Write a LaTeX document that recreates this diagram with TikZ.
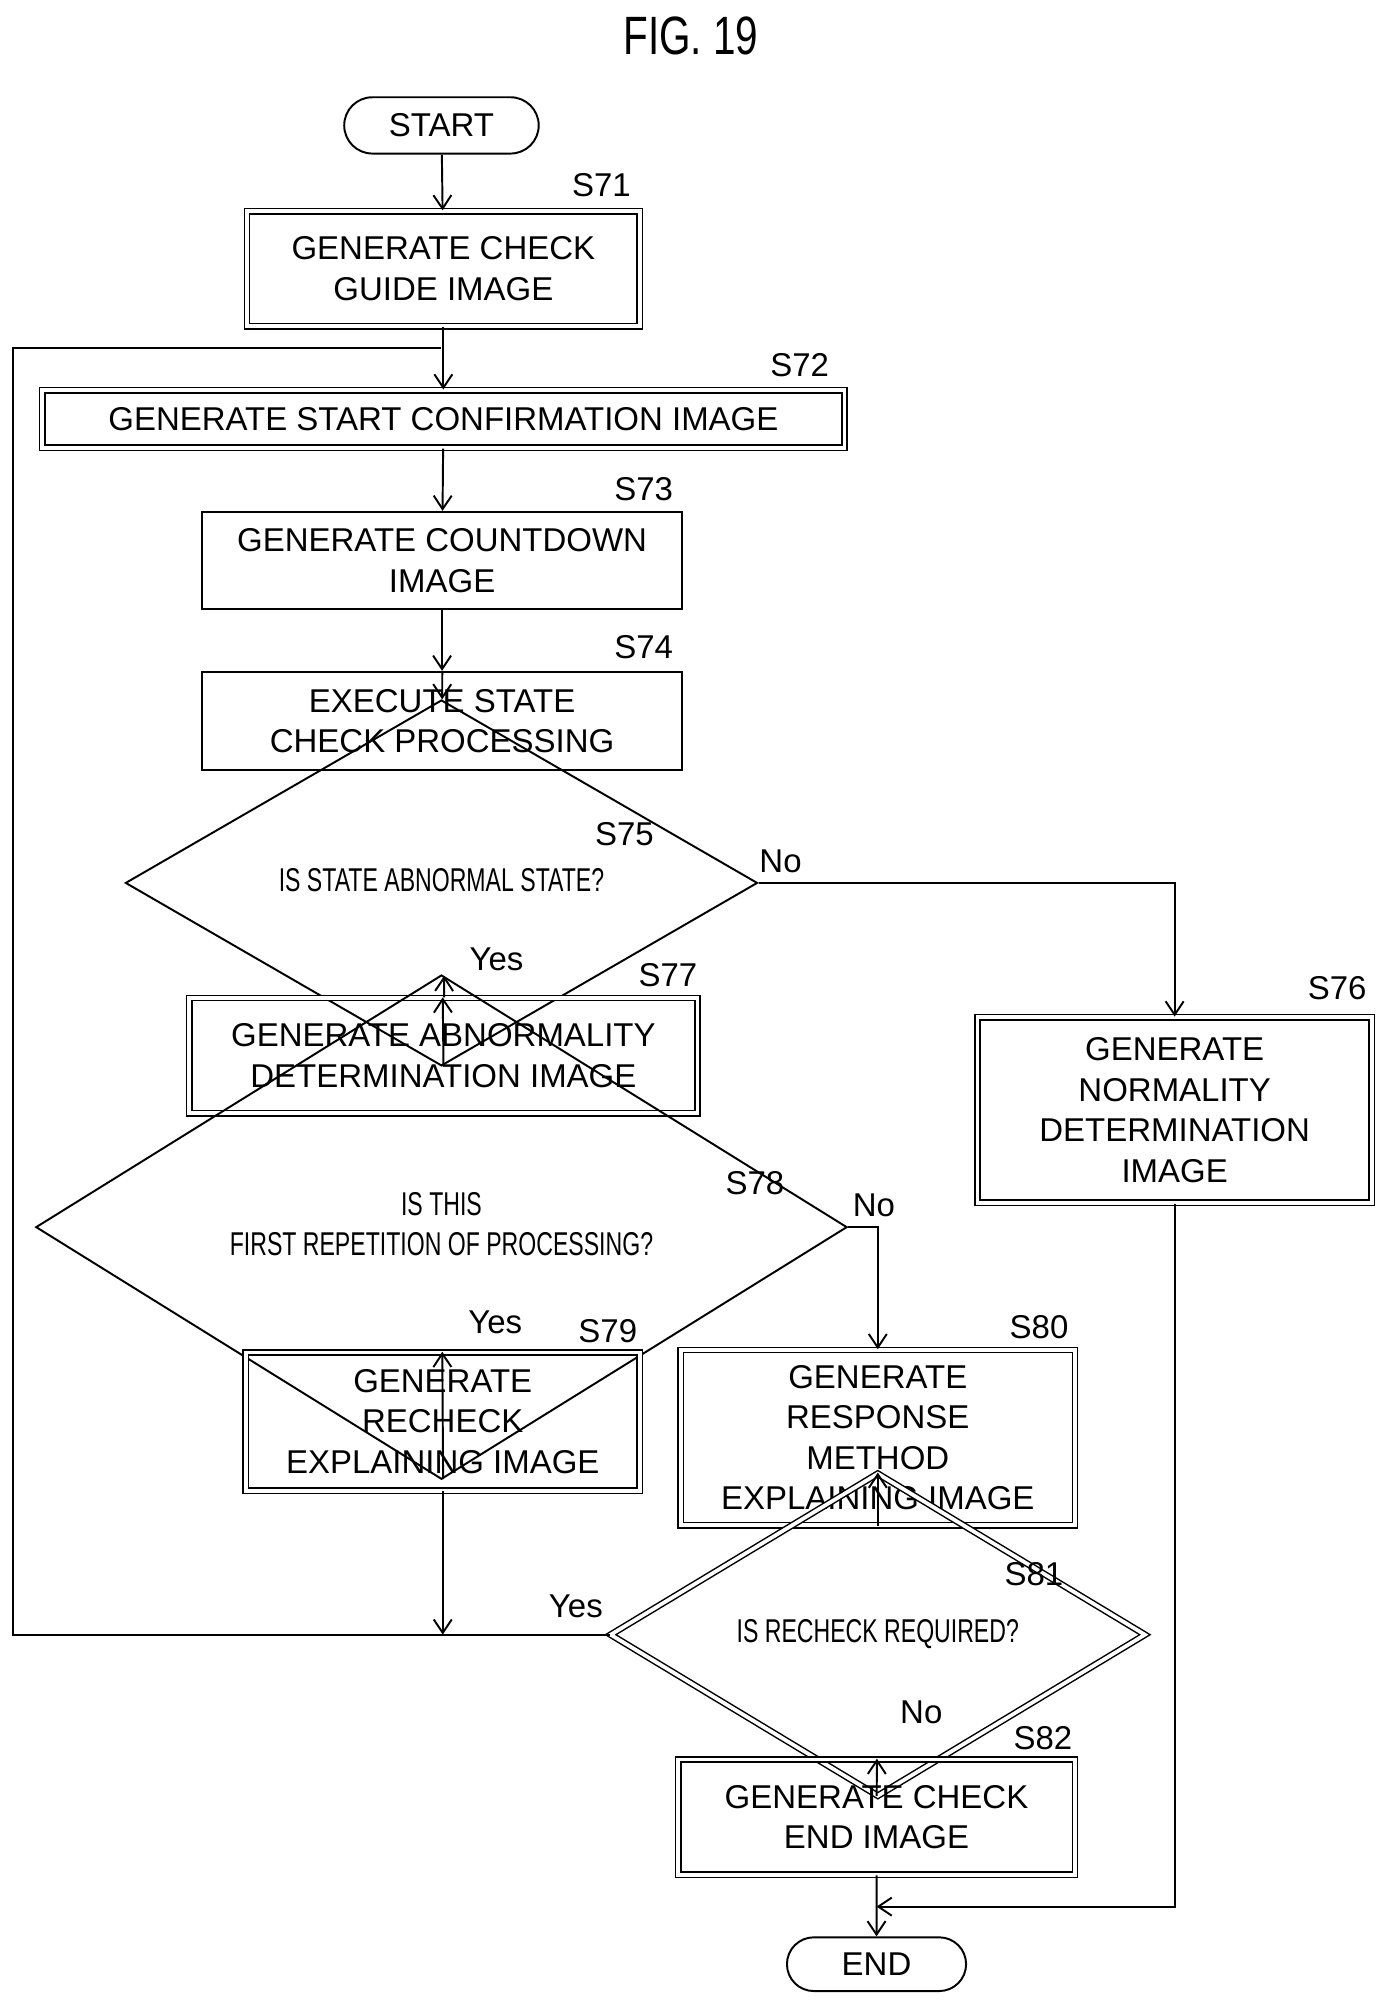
\documentclass[tikz,border=0pt]{standalone}
\usepackage{fontspec}
\setmainfont{Liberation Sans}
\usetikzlibrary{shapes.geometric,arrows.meta}
\newcommand{\condtext}[1]{\scalebox{0.7}[1]{\begin{tabular}{@{}c@{}}#1\end{tabular}}}
\tikzset{
  every node/.style={font=\fontsize{22}{27}\selectfont},
  proc/.style={draw,line width=1.3pt,align=center,inner sep=0pt},
  dproc/.style={proc,double,double distance=2.5pt,line width=1pt},
  cond/.style={draw,diamond,line width=1.3pt,inner sep=0pt},
  dcond/.style={cond,double,double distance=2.5pt,line width=1pt},
  term/.style={draw,rounded rectangle,line width=1.3pt,inner sep=0pt},
  flow/.style={line width=1.3pt,-{Straight Barb[length=9pt,width=12pt]}},
  line/.style={line width=1.3pt}
}
\usetikzlibrary{shapes.misc}
\begin{document}
\begin{tikzpicture}[x=0.03cm,y=-0.03cm]
				\useasboundingbox (0,0) rectangle (1080,1563);
				\node (title) at (540,28) {\fontsize{36}{40}\selectfont\scalebox{0.75}[1]{FIG. 19}};
				\node [term,minimum width=4.56cm,minimum height=1.32cm] (start) at (345,98) {START};
				\node [dproc,minimum width=9.21cm,minimum height=2.7cm] (s71) at (346.5,210) {GENERATE CHECK\\GUIDE IMAGE};
				\node (l71) at (470,145) {S71};
				\node [dproc,minimum width=18.81cm,minimum height=1.35cm] (s72) at (346.5,327.5) {GENERATE START CONFIRMATION IMAGE};
				\node (l72) at (625,285) {S72};
				\node [proc,minimum width=11.25cm,minimum height=2.28cm] (s73) at (345.5,438) {GENERATE COUNTDOWN\\IMAGE};
				\node (l73) at (503,382) {S73};
				\node [proc,minimum width=11.25cm,minimum height=2.31cm] (s74) at (345.5,563.5) {EXECUTE STATE\\CHECK PROCESSING};
				\node (l74) at (503,506) {S74};
				\node [cond,minimum width=14.82cm,minimum height=2.4cm] (s75) at (345,690) {\condtext{IS STATE ABNORMAL STATE?}};
				\node (l75) at (488,652) {S75};
				\node [dproc,minimum width=9.24cm,minimum height=4.35cm] (s76) at (918,867.5) {GENERATE\\NORMALITY\\DETERMINATION\\IMAGE};
				\node (l76) at (1045,772) {S76};
				\node [dproc,minimum width=11.91cm,minimum height=2.7cm] (s77) at (346.5,825) {GENERATE ABNORMALITY\\DETERMINATION IMAGE};
				\node (l77) at (522,762) {S77};
				\node [cond,minimum width=19.02cm,minimum height=3.54cm] (s78) at (345,959) {\condtext{IS THIS\\FIRST REPETITION OF PROCESSING?}};
				\node (l78) at (590,925) {S78};
				\node [dproc,minimum width=9.24cm,minimum height=3.24cm] (s79) at (346,1111) {GENERATE\\RECHECK\\EXPLAINING IMAGE};
				\node (l79) at (475,1040) {S79};
				\node [dproc,minimum width=9.24cm,minimum height=4.11cm] (s80) at (686,1123.5) {GENERATE\\RESPONSE\\METHOD\\EXPLAINING IMAGE};
				\node (l80) at (812,1037) {S80};
				\node [dcond,minimum width=12.54cm,minimum height=2.97cm] (s81) at (686,1277.5) {\condtext{IS RECHECK REQUIRED?}};
				\node (l81) at (808,1230) {S81};
				\node [dproc,minimum width=9.3cm,minimum height=2.7cm] (s82) at (685,1420) {GENERATE CHECK\\END IMAGE};
				\node (l82) at (815,1358) {S82};
				\node [term,minimum width=4.2cm,minimum height=1.26cm] (end) at (685,1535) {END};
				% branch labels
				\node (no75) at (610,673) {No};
				\node (yes75) at (388,750) {Yes};
				\node (no78) at (683,942) {No};
				\node (yes78) at (387,1033) {Yes};
				\node (yes81) at (450,1255) {Yes};
				\node (no81) at (720,1338) {No};
				% joints
				\coordinate (join) at (345,272);
				\coordinate (lft) at (10,272);
				\coordinate (back) at (346,1277.5);
				\coordinate (merge) at (685,1490);
				% connectors
				\draw[flow] (start) -- (s71);
				\draw[flow] (s71) -- (s72);
				\draw[line] (s81.west) -| (lft) -- (join);
				\draw[flow] (s72) -- (s73);
				\draw[flow] (s73) -- (s74);
				\draw[flow] (s74) -- (s75);
				\draw[flow] (s75.east) -| (s76.north);
				\draw[flow] (s75) -- (s77);
				\draw[flow] (s77) -- (s78);
				\draw[flow] (s78.east) -| (s80.north);
				\draw[flow] (s78) -- (s79);
				\draw[flow] (s79) -- (back);
				\draw[flow] (s80) -- (s81);
				\draw[flow] (s81) -- (s82);
				\draw[flow] (s76.south) |- (merge);
				\draw[flow] (s82) -- (end);
\end{tikzpicture}
\end{document}
